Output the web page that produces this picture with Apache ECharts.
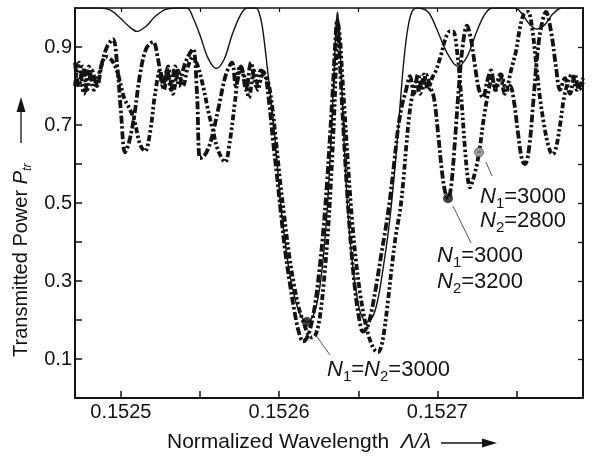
<!DOCTYPE html>
<html><head><meta charset="utf-8">
<script src="https://cdn.jsdelivr.net/npm/echarts@6.0.0/dist/echarts.min.js"></script>
<style>html,body{margin:0;padding:0;background:#fff}#c{width:593px;height:456px}</style>
</head><body><div id="c"></div>
<script>
// ---- data ----
const xLabels = [0.1525, 0.1526, 0.1527];
const xTicks = [0.15250, 0.15255, 0.15260, 0.15265, 0.15270, 0.15275];
const yLabels = [0.1, 0.3, 0.5, 0.7, 0.9];
const yTicks = [0.1, 0.2, 0.3, 0.4, 0.5, 0.6, 0.7, 0.8, 0.9];

// N1 = N2 = 3000 (solid)
const solidX = [0.1524710,0.1524868,0.1524931,0.1524994,0.1525045,0.1525102,0.1525159,0.1525216,0.1525279,0.1525342,
0.1525418,0.1525456,0.1525500,0.1525550,0.1525601,0.1525652,0.1525702,0.1525753,0.1525797,0.1525854,
0.1525879,0.1525898,0.1525930,0.1525961,0.1525986,0.1526005,0.1526031,0.1526062,0.1526094,0.1526132,
0.1526176,0.1526214,0.1526245,0.1526271,0.1526296,0.1526315,0.1526334,0.1526347,0.1526359,0.1526369,
0.1526378,0.1526391,0.1526403,0.1526422,0.1526441,0.1526467,0.1526492,0.1526517,0.1526555,0.1526593,
0.1526625,0.1526656,0.1526688,0.1526713,0.1526738,0.1526764,0.1526789,0.1526814,0.1526839,0.1526871,
0.1526941,0.1526997,0.1527061,0.1527130,0.1527187,0.1527244,0.1527294,0.1527345,0.1527490,0.1527535,
0.1527579,0.1527629,0.1527680,0.1527730,0.1527787,0.1527920];
const solidY = [1.0,1.0,0.995,0.975,0.955,0.94,0.953,0.978,0.996,1.0,
1.0,0.975,0.93,0.872,0.845,0.868,0.93,0.98,1.0,1.0,
0.98,0.94,0.83,0.72,0.61,0.51,0.42,0.33,0.265,0.215,
0.195,0.21,0.255,0.33,0.44,0.56,0.72,0.84,0.95,0.99,
0.95,0.84,0.72,0.56,0.44,0.33,0.26,0.215,0.195,0.21,
0.255,0.33,0.42,0.51,0.62,0.75,0.87,0.95,0.99,1.0,
0.99,0.945,0.885,0.85,0.875,0.935,0.98,1.0,1.0,0.985,
0.96,0.946,0.958,0.985,1.0,1.0];

// N1 = 3000, N2 = 3200 (dash-dot, black dot)
const c3200X = [0.1524710,0.1524735,0.1524761,0.1524786,0.1524817,0.1524849,0.1524881,0.1524912,0.1524950,0.1524975,
0.1525001,0.1525026,0.1525051,0.1525083,0.1525121,0.1525159,0.1525203,0.1525234,0.1525266,0.1525291,
0.1525317,0.1525342,0.1525367,0.1525399,0.1525430,0.1525456,0.1525481,0.1525500,0.1525525,0.1525557,
0.1525582,0.1525620,0.1525664,0.1525702,0.1525727,0.1525759,0.1525791,0.1525822,0.1525854,0.1525885,
0.1525911,0.1525936,0.1525961,0.1525986,0.1526012,0.1526037,0.1526069,0.1526100,0.1526125,0.1526151,
0.1526176,0.1526201,0.1526227,0.1526252,0.1526277,0.1526302,0.1526321,0.1526340,0.1526353,0.1526366,
0.1526378,0.1526391,0.1526410,0.1526429,0.1526454,0.1526479,0.1526505,0.1526530,0.1526555,0.1526580,
0.1526612,0.1526644,0.1526675,0.1526700,0.1526726,0.1526751,0.1526776,0.1526802,0.1526827,0.1526852,
0.1526877,0.1526903,0.1526928,0.1526953,0.1526978,0.1527004,0.1527029,0.1527048,0.1527067,0.1527086,
0.1527111,0.1527136,0.1527162,0.1527187,0.1527212,0.1527238,0.1527263,0.1527288,0.1527313,0.1527339,
0.1527364,0.1527396,0.1527427,0.1527459,0.1527484,0.1527509,0.1527535,0.1527554,0.1527579,0.1527604,
0.1527629,0.1527655,0.1527686,0.1527718,0.1527749,0.1527775,0.1527806,0.1527838,0.1527869,0.1527895,
0.1527920];
const c3200Y = [0.86,0.80,0.85,0.79,0.84,0.80,0.86,0.90,0.92,0.86,
0.73,0.63,0.655,0.72,0.83,0.895,0.913,0.87,0.80,0.84,
0.79,0.85,0.80,0.85,0.88,0.895,0.78,0.615,0.62,0.645,
0.68,0.75,0.83,0.86,0.80,0.85,0.79,0.86,0.80,0.84,
0.83,0.76,0.66,0.57,0.47,0.38,0.29,0.215,0.168,0.145,
0.155,0.185,0.24,0.32,0.42,0.55,0.67,0.80,0.90,0.97,
0.91,0.80,0.66,0.53,0.39,0.28,0.205,0.17,0.18,0.215,
0.285,0.365,0.44,0.51,0.60,0.69,0.75,0.79,0.825,0.78,
0.83,0.79,0.83,0.80,0.77,0.68,0.58,0.53,0.512,0.54,
0.66,0.80,0.91,0.955,0.92,0.85,0.79,0.77,0.81,0.84,
0.79,0.83,0.78,0.80,0.76,0.68,0.61,0.60,0.64,0.75,
0.87,0.95,0.99,0.94,0.85,0.79,0.82,0.78,0.83,0.79,
0.81];

// N1 = 3000, N2 = 2800 (dash-dot-dot, grey dot)
const c2800X = [0.1524710,0.1524735,0.1524767,0.1524798,0.1524830,0.1524868,0.1524906,0.1524944,0.1524982,0.1525020,
0.1525051,0.1525083,0.1525121,0.1525152,0.1525184,0.1525216,0.1525247,0.1525272,0.1525298,0.1525329,
0.1525361,0.1525392,0.1525424,0.1525456,0.1525487,0.1525519,0.1525550,0.1525582,0.1525614,0.1525658,
0.1525689,0.1525721,0.1525753,0.1525784,0.1525809,0.1525841,0.1525866,0.1525898,0.1525930,0.1525955,
0.1525980,0.1526005,0.1526031,0.1526062,0.1526094,0.1526125,0.1526157,0.1526182,0.1526208,0.1526233,
0.1526258,0.1526283,0.1526309,0.1526328,0.1526347,0.1526359,0.1526372,0.1526385,0.1526397,0.1526416,
0.1526435,0.1526460,0.1526486,0.1526511,0.1526536,0.1526561,0.1526587,0.1526606,0.1526625,0.1526644,
0.1526663,0.1526688,0.1526713,0.1526738,0.1526764,0.1526783,0.1526802,0.1526821,0.1526839,0.1526865,
0.1526890,0.1526915,0.1526941,0.1526966,0.1526991,0.1527023,0.1527054,0.1527080,0.1527099,0.1527124,
0.1527149,0.1527174,0.1527193,0.1527206,0.1527225,0.1527250,0.1527269,0.1527294,0.1527320,0.1527345,
0.1527370,0.1527402,0.1527433,0.1527465,0.1527497,0.1527522,0.1527547,0.1527572,0.1527598,0.1527623,
0.1527648,0.1527674,0.1527699,0.1527718,0.1527730,0.1527749,0.1527775,0.1527800,0.1527825,0.1527850,
0.1527882,0.1527920];
const c2800Y = [0.80,0.86,0.78,0.85,0.79,0.84,0.875,0.865,0.83,0.77,
0.745,0.715,0.65,0.633,0.68,0.78,0.84,0.79,0.85,0.78,
0.84,0.80,0.85,0.875,0.85,0.80,0.74,0.685,0.635,0.605,
0.66,0.76,0.85,0.82,0.77,0.84,0.79,0.83,0.81,0.75,
0.66,0.56,0.47,0.37,0.29,0.23,0.19,0.165,0.155,0.165,
0.21,0.30,0.43,0.56,0.72,0.85,0.96,0.92,0.84,0.72,
0.60,0.46,0.35,0.27,0.21,0.165,0.135,0.122,0.118,0.13,
0.17,0.25,0.34,0.42,0.48,0.55,0.64,0.72,0.77,0.81,
0.78,0.83,0.79,0.82,0.84,0.88,0.925,0.94,0.94,0.89,
0.78,0.64,0.56,0.54,0.56,0.60,0.645,0.72,0.78,0.82,
0.79,0.83,0.79,0.84,0.89,0.95,0.985,0.99,0.95,0.86,
0.77,0.70,0.65,0.628,0.625,0.64,0.70,0.77,0.81,0.83,
0.79,0.82];

// marker dots
const dotEqual = [0.1526176, 0.195];
const dot3200 = [0.1527067, 0.512];
const dot2800 = [0.1527263, 0.630];

// ---- chart ----
const FONT = '"Liberation Sans", Arial, Helvetica, sans-serif';
const INK = '#131313';
const pair = (xs, ys) => xs.map((x, i) => [x, ys[i]]);
const cvs = document.createElement('canvas').getContext('2d');
const measure = (t, f) => { cvs.font = f; return cvs.measureText(t).width; };

function run(parts, x0, y0, size) {
  let x = x0; const out = [];
  parts.forEach(p => {
    const fs = p.sub ? Math.round(size * 0.66) : size;
    const font = (p.it ? 'italic ' : '') + fs + 'px ' + FONT;
    out.push({ type: 'text', x: x, y: y0 + (p.sub ? size * 0.3 : 0),
      style: { text: p.t, font: font, fill: INK, align: 'left', verticalAlign: 'middle',
               textAlign: 'left', textVerticalAlign: 'middle' } });
    x += measure(p.t, font) + (p.gap || 0);
  });
  return { children: out, end: x };
}
function arrow(x1, x2, y) {
  return [
    { type: 'line', shape: { x1: x1, y1: y, x2: x2 - 12, y2: y }, style: { stroke: INK, lineWidth: 1.3 } },
    { type: 'polygon', shape: { points: [[x2, y], [x2 - 15, y - 4.5], [x2 - 15, y + 4.5]] }, style: { fill: INK } }
  ];
}

const L = 22;
const labels = [];
[[480, 197, [{t:'N',it:1},{t:'1',sub:1},{t:'=3000'}]],
 [480, 221, [{t:'N',it:1},{t:'2',sub:1},{t:'=2800'}]],
 [437, 256, [{t:'N',it:1},{t:'1',sub:1},{t:'=3000'}]],
 [437, 282, [{t:'N',it:1},{t:'2',sub:1},{t:'=3200'}]],
 [327, 370, [{t:'N',it:1},{t:'1',sub:1},{t:'='},{t:'N',it:1},{t:'2',sub:1},{t:'=3000'}]]
].forEach(d => { labels.push(...run(d[2], d[0], d[1], L).children); });

// x axis title
const xt = run([{t:'Normalized Wavelength  '},{t:'Λ/λ',it:1}], 167, 442, 21);
const xTitle = xt.children.concat(arrow(xt.end + 10, xt.end + 66, 443));
// y axis title (rotated)
const yt = run([{t:'Transmitted Power '},{t:'P',it:1},{t:'tr',it:1,sub:1}], 0, 0, 20);
const yTitle = { type: 'group', x: 21, y: 357, rotation: Math.PI / 2,
  children: yt.children.concat(arrow(yt.end + 20, yt.end + 66, 0)) };

const leaders = [[315, 334, 330, 355], [453, 206, 471, 243], [486, 162, 492, 176]].map(s => ({
  type: 'line', shape: { x1: s[0], y1: s[1], x2: s[2], y2: s[3] }, style: { stroke: '#444', lineWidth: 0.9 } }));

const chart = echarts.init(document.getElementById('c'), null, { renderer: 'canvas' });
const axLine = w => ({ show: true, onZero: false, lineStyle: { color: INK, width: w } });
chart.setOption({
  animation: false,
  backgroundColor: '#fff',
  grid: { left: 75, right: 10, top: 8, bottom: 58 },
  xAxis: [
    { type: 'value', min: 0.152471, max: 0.152792, position: 'bottom', axisLine: axLine(2),
      axisTick: { show: true, inside: true, length: 7, customValues: xTicks, lineStyle: { color: INK, width: 1.5 } },
      axisLabel: { customValues: xLabels, formatter: v => v.toFixed(4), fontSize: 20, color: INK, fontFamily: FONT, margin: 4 },
      splitLine: { show: false } },
    { type: 'value', min: 0.152471, max: 0.152792, position: 'top', axisLine: axLine(1.5),
      axisTick: { show: true, inside: true, length: 4, customValues: xTicks, lineStyle: { color: INK, width: 1.2 } },
      axisLabel: { show: false }, splitLine: { show: false } }
  ],
  yAxis: [
    { type: 'value', min: 0, max: 1.0, position: 'left', axisLine: axLine(2),
      axisTick: { show: true, inside: true, length: 7, customValues: yTicks, lineStyle: { color: INK, width: 1.5 } },
      axisLabel: { customValues: yLabels, formatter: v => v.toFixed(1), fontSize: 20, color: INK, fontFamily: FONT, margin: 3 },
      splitLine: { show: false } },
    { type: 'value', min: 0, max: 1.0, position: 'right', axisLine: axLine(2),
      axisTick: { show: true, inside: true, length: 5, customValues: yTicks, lineStyle: { color: INK, width: 1.3 } },
      axisLabel: { show: false }, splitLine: { show: false } }
  ],
  series: [
    { name: 'N1=3000 N2=2800', type: 'line', data: pair(c2800X, c2800Y), smooth: 0.35, showSymbol: false,
      lineStyle: { color: INK, width: 3.8, type: [6, 2.5, 2.5, 2.5, 2.5, 2.5] }, z: 2 },
    { name: 'N1=3000 N2=3200', type: 'line', data: pair(c3200X, c3200Y), smooth: 0.35, showSymbol: false,
      lineStyle: { color: INK, width: 3.8, type: [8, 2.5, 2.5, 2.5] }, z: 2 },
    { name: 'N1=N2=3000', type: 'line', data: pair(solidX, solidY), smooth: 0.35, showSymbol: false,
      lineStyle: { color: INK, width: 1.4 }, z: 3 },
    { type: 'scatter', data: [dotEqual, dot3200], symbolSize: 10, itemStyle: { color: INK }, z: 5 },
    { type: 'scatter', data: [dot2800], symbolSize: 9, itemStyle: { color: '#8c8c8c', borderColor: '#555', borderWidth: 1 }, z: 5 }
  ],
  graphic: labels.concat(xTitle, [yTitle], leaders)
});
</script></body></html>
